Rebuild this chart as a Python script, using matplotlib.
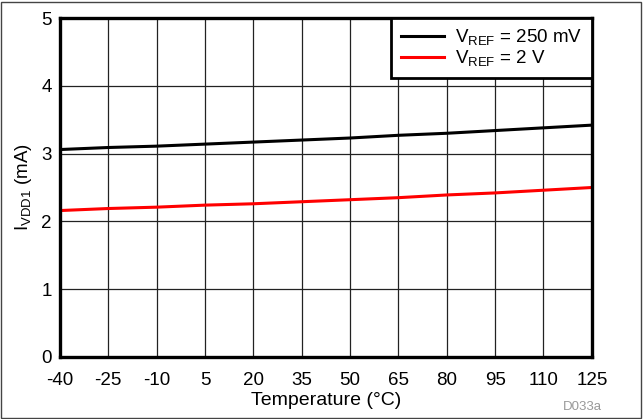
import numpy as np
import matplotlib
matplotlib.use('Agg')
import matplotlib.pyplot as plt
from matplotlib.patches import Rectangle

plt.rcParams['font.family'] = ['Liberation Sans', 'DejaVu Sans']
plt.rcParams['mathtext.fontset'] = 'custom'
plt.rcParams['mathtext.rm'] = 'Liberation Sans'
plt.rcParams['axes.unicode_minus'] = False

# temperature (C) and supply current (mA)
temp = [-40, -25, -10, 5, 20, 35, 50, 65, 80, 95, 110, 125]
i_250mv = [3.06, 3.09, 3.11, 3.14, 3.17, 3.20, 3.23, 3.27, 3.30, 3.34, 3.38, 3.42]
i_2v = [2.16, 2.19, 2.21, 2.24, 2.26, 2.29, 2.32, 2.35, 2.39, 2.42, 2.46, 2.50]

fig = plt.figure(figsize=(6.44, 4.19), dpi=100)
ax = fig.add_axes([0.093, 0.148, 0.826, 0.809])

ax.plot(temp, i_250mv, color='black', lw=2.2, label=r'V$_{\mathregular{REF}}$ = 250 mV')
ax.plot(temp, i_2v, color='#ff0000', lw=2.2, label=r'V$_{\mathregular{REF}}$ = 2 V')

ax.set_xlim(-40, 125)
ax.set_ylim(0, 5)
ax.set_xticks(np.arange(-40, 126, 15))
ax.set_yticks(np.arange(0, 6, 1))
ax.grid(True, color='#222222', lw=0.9)
ax.set_axisbelow(True)
ax.tick_params(length=0, labelsize=13.5)
ax.tick_params(axis='x', pad=11)
ax.tick_params(axis='y', pad=6)
for s in ax.spines.values():
  s.set_linewidth(2.4)
  s.set_color('black')

ax.set_xlabel('Temperature (°C)', fontsize=14, labelpad=2)
ax.set_ylabel(r'I$_{\mathregular{VDD1}}$ (mA)', fontsize=13.5, labelpad=5)

leg = ax.legend(loc='upper right', fontsize=13.5, frameon=True, fancybox=False,
                borderaxespad=0, handlelength=2.3, handletextpad=0.6,
                labelspacing=0.05, borderpad=0.5)
leg.get_frame().set_edgecolor('black')
leg.get_frame().set_linewidth(2.0)
leg.get_frame().set_alpha(1)

fig.text(0.935, 0.022, 'D033a', color='#999999', fontsize=9.5, ha='right')

fig.patches.append(Rectangle((0.002, 0.002), 0.994, 0.994, transform=fig.transFigure,
                             fill=False, edgecolor='#444444', lw=1))

fig.savefig('out.png', dpi=100)
